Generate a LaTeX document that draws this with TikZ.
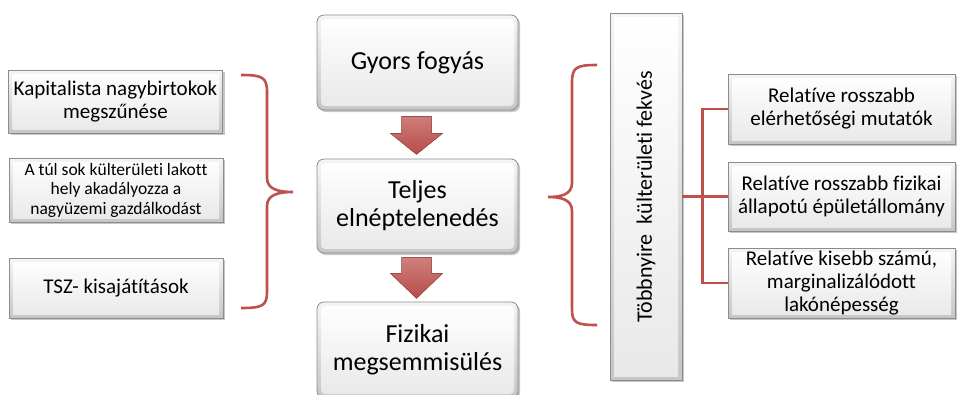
\documentclass[tikz,border=0pt]{standalone}
\usepackage{fontspec}
\setmainfont{Carlito}[Ligatures=CommonOff]
\usetikzlibrary{shadows,calc}

\definecolor{braceRed}{HTML}{C0504D}
\definecolor{boxEdge}{HTML}{8C8C8C}

\tikzset{
  panel/.style={draw=boxEdge, line width=0.8pt, top color=gray!8, bottom color=gray!45,
    drop shadow={shadow xshift=2pt, shadow yshift=-2pt, opacity=0.45},
    path picture={
      \shade [top color=white, bottom color=gray!18, rounded corners=#1]
        ($(path picture bounding box.north west)+(4pt,-4pt)$) rectangle
        ($(path picture bounding box.south east)+(-4pt,4pt)$);},
    align=center, inner sep=2pt, text=black},
  panel/.default=0pt,
  roundpanel/.style={panel=4pt, rounded corners=7pt},
  bracket/.style={draw=braceRed, line width=2.6pt},
  branch/.style={draw=braceRed, line width=2.6pt},
  blockarrow/.style={top color=braceRed!70!white, bottom color=braceRed!95!black,
    draw=braceRed!80!black, line width=0.4pt},
  bigtext/.style={font=\fontsize{26}{28}\selectfont},
  midtext/.style={font=\fontsize{21}{23}\selectfont},
  smalltext/.style={font=\fontsize{17.5}{19.5}\selectfont},
}

\begin{document}
\begin{tikzpicture}[x=1pt, y=-1pt]

\path [use as bounding box] (0,0) rectangle (957,394);

% LEFT BOXES
\node [panel, midtext, minimum width=214pt, minimum height=63pt] (kap) at (115.5,101.5)
	{Kapitalista nagybirtokok\\megszűnése};
\node [panel, smalltext, minimum width=214pt, minimum height=64pt] (akad) at (116,190)
	{A túl sok külterületi lakott\\hely akadályozza a\\nagyüzemi gazdálkodást};
\node [panel, midtext, minimum width=214pt, minimum height=60pt] (tsz) at (116,288)
	{TSZ- kisajátítások};

% LEFT BRACKET
\draw [bracket] (241,75) .. controls (262,75) and (267,77) .. (267,92)
	-- (267,178) .. controls (267,190) and (280,192) .. (293,192)
	.. controls (280,192) and (267,194) .. (267,206)
	-- (267,292) .. controls (267,306) and (262,308) .. (241,308);

% CENTRE COLUMN
\node [roundpanel, bigtext, minimum width=201pt, minimum height=95pt] (gyors) at (417.5,62.5)
	{Gyors fogyás};
\node [roundpanel, bigtext, minimum width=201pt, minimum height=94pt] (teljes) at (417.5,206)
	{Teljes\\elnéptelenedés};
\node [roundpanel, bigtext, minimum width=201pt, minimum height=96pt] (fizikai) at (417.5,350)
	{Fizikai\\megsemmisülés};

% ARROWS
\filldraw [blockarrow] (gyors.south) ++(-1,6)
	+(-15,0) -- +(15,0) -- +(15,17) -- +(26,17) -- +(0,38) -- +(-26,17) -- +(-15,17) -- cycle;
\filldraw [blockarrow] (teljes.south) ++(-1,4)
	+(-15,0) -- +(15,0) -- +(15,16) -- +(26,16) -- +(0,41) -- +(-26,16) -- +(-15,16) -- cycle;

% RIGHT BRACKET
\draw [bracket] (597,65) .. controls (577,65) and (572,67) .. (572,82)
	-- (572,183) .. controls (572,195) and (560,197) .. (548,197)
	.. controls (560,197) and (572,199) .. (572,211)
	-- (572,310) .. controls (572,323) and (577,325) .. (597,325);

% VERTICAL BOX
\node [panel, minimum width=72pt, minimum height=367pt] (fekves) at (646,196.5) {};
\node [rotate=90, font=\fontsize{22}{24}\selectfont] (fekvesLabel) at (fekves.center)
	{Többnyire~ külterületi fekvés};

% RIGHT BOXES
\node [panel, midtext, minimum width=227pt, minimum height=70pt] (rb1) at (841.5,109)
	{Relatíve rosszabb\\elérhetőségi mutatók};
\node [panel, midtext, minimum width=227pt, minimum height=69pt] (rb2) at (841.5,196.5)
	{Relatíve rosszabb fizikai\\állapotú épületállomány};
\node [panel, midtext, minimum width=227pt, minimum height=70pt] (rb3) at (841.5,283)
	{Relatíve kisebb számú,\\marginalizálódott\\lakónépesség};

% BRANCHES
\draw [branch] (fekves.east |- rb2.west) -- (rb2.west);
\draw [branch] (rb1.west) -- ++(-25,0) |- (rb3.west);

\end{tikzpicture}
\end{document}
